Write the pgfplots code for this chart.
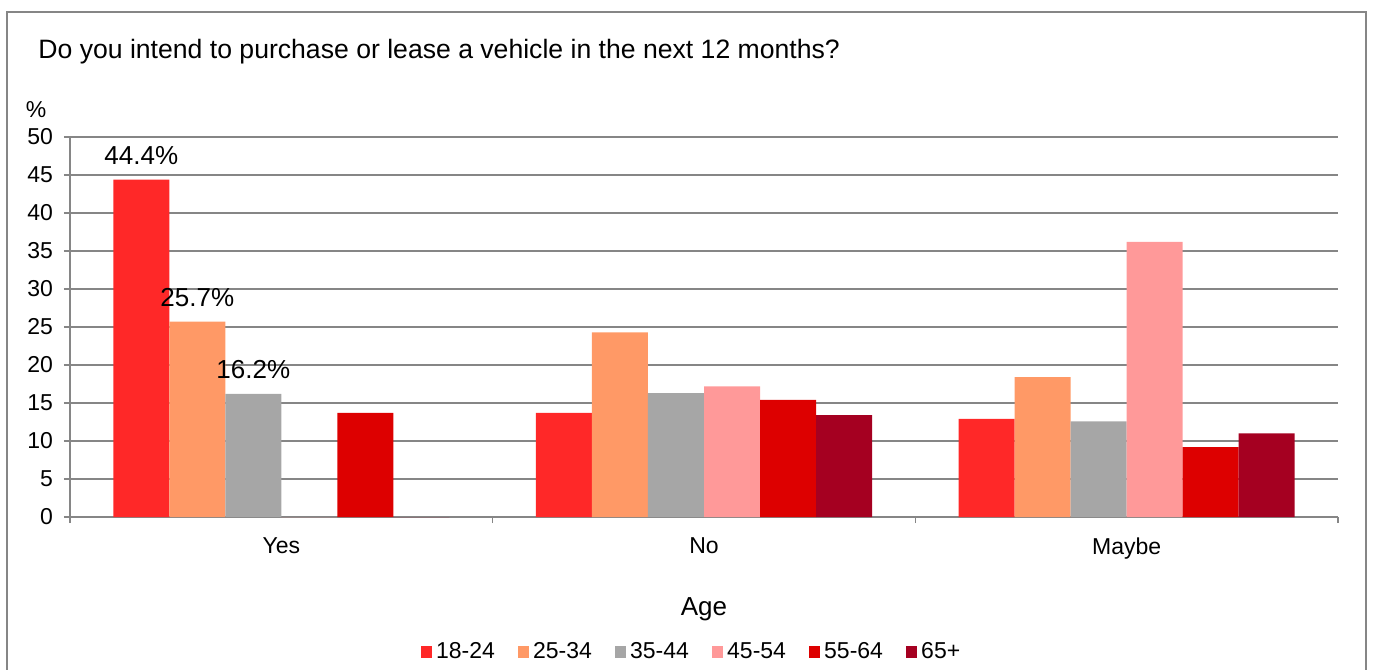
\documentclass[border=0pt]{standalone}
\usepackage{fontspec}
\setmainfont{Liberation Sans}
\usepackage{xcolor}
\usepackage{pgfplots}
\pgfplotsset{compat=1.18}
\definecolor{cA}{RGB}{255,40,40}
\definecolor{cB}{RGB}{255,153,102}
\definecolor{cC}{RGB}{166,166,166}
\definecolor{cD}{RGB}{255,153,153}
\definecolor{cE}{RGB}{221,0,0}
\definecolor{cF}{RGB}{165,0,33}
\definecolor{gridgray}{RGB}{134,134,134}
\begin{document}
\begin{tikzpicture}[x=1pt,y=1pt]
\useasboundingbox (0,0) rectangle (686.5,-335);
\draw[gridgray,line width=0.8pt] (3.5,-6) rectangle (683,-345);
\node[anchor=west,inner sep=0pt,font=\fontsize{13.3}{16}\selectfont] at (19,-26) {Do you intend to purchase or lease a vehicle in the next 12 months?};
\node[font=\fontsize{11.5}{13}\selectfont] at (18,-55) {\%};
\begin{axis}[
  at={(35pt,-258.5pt)}, anchor=south west,
  scale only axis, width=634pt, height=190pt,
  ybar=0pt, bar width=0.1325,
  xmin=-0.5, xmax=2.5, ymin=0, ymax=50,
  ytick={0,5,...,50},
  xtick={0,1,2}, xticklabels={Yes,No,Maybe},
  minor xtick={-0.5,0.5,1.5,2.5},
  major x tick style={draw=none},
  minor tick length=3pt, major tick length=3pt,
  tick align=outside, tick pos=left,
  ymajorgrids, grid style={gridgray,line width=0.8pt},
  minor x grid style={draw=none},
  axis x line*=bottom, axis y line*=left,
  axis line style={gridgray,line width=0.8pt},
  tick style={gridgray,line width=0.8pt},
  every tick label/.style={font=\fontsize{11.5}{13}\selectfont},
  /pgf/number format/assume math mode=true,
  yticklabel style={xshift=-2pt},
  xticklabel style={yshift=-4pt},
  xlabel={Age}, xlabel style={font=\fontsize{13}{15}\selectfont, yshift=-12pt},
  legend columns=6,
  legend style={draw=none, at={(0.491,-0.355)}, anchor=center, font=\fontsize{11.5}{13}\selectfont,
    /tikz/every even column/.append style={column sep=9.5pt}},
  legend image code/.code={\fill[#1] (0pt,-2.8pt) rectangle (5.6pt,2.8pt);},
  point meta=explicit symbolic,
  nodes near coords,
  every node near coord/.append style={font=\fontsize{13}{15}\selectfont, yshift=4pt},
  clip=false,
]
\addplot[fill=cA,draw=none] coordinates {(0,44.4)[44.4\%] (1,13.7)[] (2,12.9)[]};
\addplot[fill=cB,draw=none] coordinates {(0,25.7)[25.7\%] (1,24.3)[] (2,18.4)[]};
\addplot[fill=cC,draw=none] coordinates {(0,16.2)[16.2\%] (1,16.3)[] (2,12.6)[]};
\addplot[fill=cD,draw=none] coordinates {(0,0)[] (1,17.2)[] (2,36.2)[]};
\addplot[fill=cE,draw=none] coordinates {(0,13.7)[] (1,15.4)[] (2,9.2)[]};
\addplot[fill=cF,draw=none] coordinates {(0,0)[] (1,13.4)[] (2,11.0)[]};
\legend{18-24,25-34,35-44,45-54,55-64,65+}
\end{axis}
\end{tikzpicture}
\end{document}
